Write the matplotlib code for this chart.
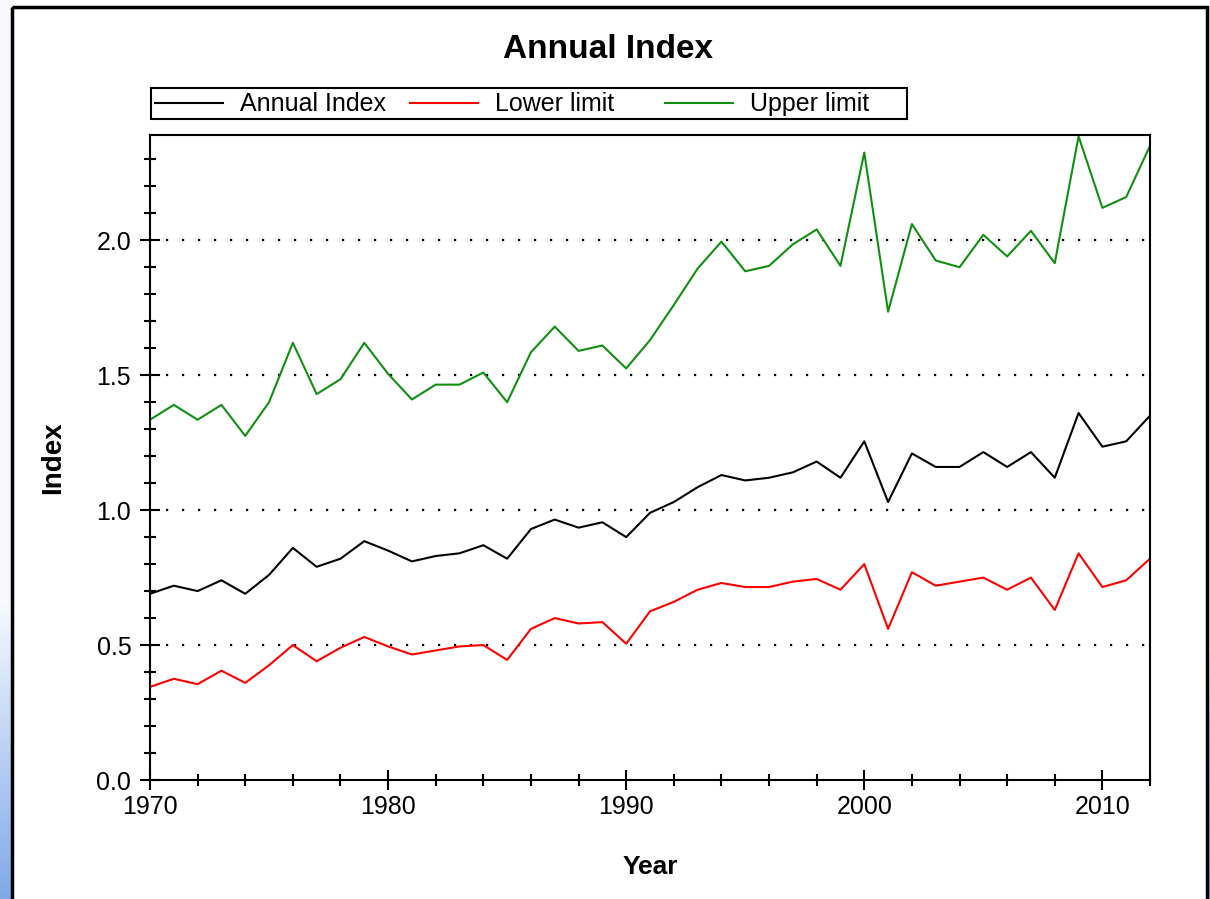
import numpy as np
import matplotlib
matplotlib.use("Agg")
import matplotlib.pyplot as plt
from matplotlib.patches import Rectangle
from matplotlib.lines import Line2D
from matplotlib.ticker import MultipleLocator

plt.rcParams['font.family'] = ['Liberation Sans', 'DejaVu Sans']

years = list(range(1970, 2013))

annual_index = [0.69, 0.72, 0.70, 0.74, 0.69, 0.76, 0.86, 0.79, 0.82, 0.885,
                0.85, 0.81, 0.83, 0.84, 0.87, 0.82, 0.93, 0.965, 0.935, 0.955,
                0.90, 0.99, 1.03, 1.085, 1.13, 1.11, 1.12, 1.14, 1.18, 1.12,
                1.255, 1.03, 1.21, 1.16, 1.16, 1.215, 1.16, 1.215, 1.12, 1.36,
                1.235, 1.255, 1.35]

lower_limit = [0.345, 0.375, 0.355, 0.405, 0.36, 0.425, 0.50, 0.44, 0.49, 0.53,
               0.495, 0.465, 0.48, 0.495, 0.50, 0.445, 0.56, 0.60, 0.58, 0.585,
               0.505, 0.625, 0.66, 0.705, 0.73, 0.715, 0.715, 0.735, 0.745, 0.705,
               0.80, 0.56, 0.77, 0.72, 0.735, 0.75, 0.705, 0.75, 0.63, 0.84,
               0.715, 0.74, 0.82]

upper_limit = [1.335, 1.39, 1.335, 1.39, 1.275, 1.40, 1.62, 1.43, 1.485, 1.62,
               1.505, 1.41, 1.465, 1.465, 1.51, 1.40, 1.585, 1.68, 1.59, 1.61,
               1.525, 1.63, 1.76, 1.895, 1.995, 1.885, 1.905, 1.985, 2.04, 1.905,
               2.325, 1.735, 2.06, 1.925, 1.90, 2.02, 1.94, 2.035, 1.915, 2.385,
               2.12, 2.16, 2.35]

series_names = ['Annual Index', 'Lower limit', 'Upper limit']
series_colors = ['black', '#ff0000', '#109010']

W, H = 1210, 899
fig = plt.figure(figsize=(W / 100, H / 100), dpi=100)
fig.patch.set_facecolor('white')

# window background: blue gradient strips at the edges
bg = fig.add_axes([0, 0, 1, 1], zorder=-5)
grad = np.ones((H, W, 3))
rows = np.arange(H)
t = np.clip((rows - 600) / 299.0, 0, 1)
blue = np.array([0.50, 0.66, 0.91])
col = (1 - t)[:, None] * np.array([0.97, 0.98, 1.0]) + t[:, None] * blue
grad[:, :11, :] = col[:, None, :]
t2 = np.clip((rows - 650) / 249.0, 0, 1) ** 0.5
col2 = (1 - t2)[:, None] * np.array([1.0, 1.0, 1.0]) + t2[:, None] * blue
grad[:, 1208:, :] = col2[:, None, :]
bg.imshow(grad, aspect='auto', extent=[0, W, H, 0])
bg.set_xlim(0, W)
bg.set_ylim(H, 0)
bg.axis('off')
bg.add_patch(Rectangle((12, 7), 1195, 900, facecolor='none', edgecolor='black', linewidth=2.5))

ax = fig.add_axes([150 / W, 1 - 780 / H, 1000 / W, 645 / H])
for vals, name, c in zip([annual_index, lower_limit, upper_limit], series_names, series_colors):
    ax.plot(years, vals, color=c, lw=1.5, label=name)

ax.set_xlim(1970, 2012)
ax.set_ylim(0, 2.39)
ax.xaxis.set_major_locator(MultipleLocator(10))
ax.xaxis.set_minor_locator(MultipleLocator(2))
ax.yaxis.set_major_locator(MultipleLocator(0.5))
ax.yaxis.set_minor_locator(MultipleLocator(0.1))
ax.yaxis.set_major_formatter(plt.FormatStrFormatter('%.1f'))
ax.tick_params(which='major', direction='inout', length=15, width=1.5, labelsize=18)
ax.tick_params(axis='x', which='major', pad=3)
ax.tick_params(axis='y', which='major', pad=6)
ax.tick_params(which='minor', direction='inout', length=8, width=1.5)
for s in ax.spines.values():
    s.set_linewidth(1.5)

for yv in [0.5, 1.0, 1.5, 2.0]:
    ax.axhline(yv, color='black', lw=1.6, linestyle=(0, (1, 6.2)), zorder=0)

fig.text(608 / W, 1 - 49 / H, 'Annual Index', fontsize=24, fontweight='bold',
         ha='center', va='center')
ax.set_xlabel('Year', fontsize=19, fontweight='bold', labelpad=26)
ax.set_ylabel('Index', fontsize=20, fontweight='bold', labelpad=22)

# legend box drawn by hand so the three entries sit at equal spacing
bg.add_patch(Rectangle((151, 88), 756, 31, facecolor='white', edgecolor='black', linewidth=1.5))
for i, (name, c) in enumerate(zip(series_names, series_colors)):
    x0 = 155 + 255 * i
    bg.add_line(Line2D([x0, x0 + 68], [103, 103], color=c, lw=1.5))
    bg.text(x0 + 85, 104, name, fontsize=18, ha='left', va='center')

fig.savefig('out.png', dpi=100)
